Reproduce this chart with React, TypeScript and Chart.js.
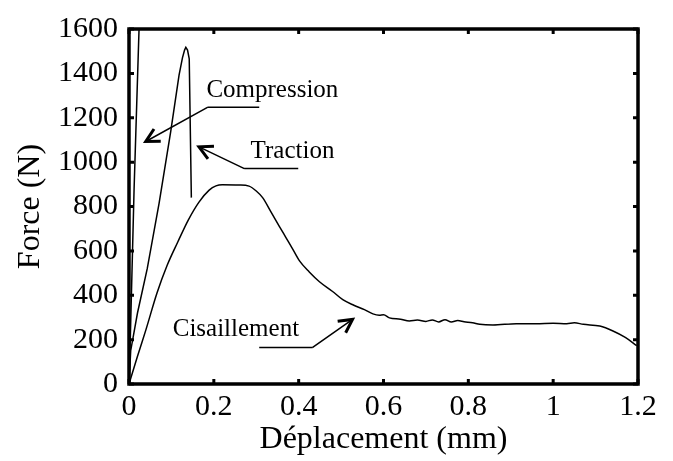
import React, { useEffect, useRef } from "react";
import { Chart, registerables } from "chart.js";

Chart.register(...registerables);

// ---- Data (displacement in mm, force in N) ----
const compressionDisp = [0, 0.003, 0.012, 0.024];
const compressionForce = [0, 200, 880, 1620];

const tractionDisp = [0, 0.004, 0.02, 0.043, 0.071, 0.0985, 0.118, 0.126, 0.131, 0.134, 0.138, 0.142, 0.147];
const tractionForce = [0, 150, 320, 520, 815, 1140, 1392, 1470, 1505, 1517, 1505, 1466, 840];

const shearDisp = [
  0, 0.02, 0.04, 0.066, 0.09, 0.115, 0.14, 0.165, 0.189, 0.205, 0.22, 0.26, 0.283, 0.3, 0.315,
  0.335, 0.354, 0.37, 0.386, 0.402, 0.425, 0.449, 0.48, 0.504, 0.53, 0.555, 0.575, 0.59, 0.6,
  0.614, 0.64, 0.661, 0.68, 0.7, 0.715, 0.73, 0.745, 0.76, 0.775, 0.79, 0.81, 0.827, 0.858,
  0.913, 0.96, 1.0, 1.032, 1.05, 1.071, 1.11, 1.141, 1.17, 1.197,
];
const shearForce = [
  0, 125, 245, 410, 535, 640, 740, 820, 874, 893, 898, 897, 892, 870, 840,
  775, 712, 660, 608, 555, 505, 461, 417, 380, 355, 335, 316, 310, 312,
  298, 292, 284, 288, 282, 289, 280, 290, 279, 286, 281, 276, 269, 266,
  272, 272, 274, 272, 276, 269, 261, 239, 210, 173,
];

const xTickValues = [0, 0.2, 0.4, 0.6, 0.8, 1, 1.2];
const yTickValues = [0, 200, 400, 600, 800, 1000, 1200, 1400, 1600];

// annotations: label, text centre, underline (x1, x2, y), arrow tip (data coords)
const annotationLabels = ["Compression", "Traction", "Cisaillement"];
const annotationTextX = [0.338, 0.3855, 0.252];
const annotationTextY = [1325, 1046, 244];
const underlineX1 = [0.185, 0.272, 0.307];
const underlineX2 = [0.307, 0.399, 0.433];
const underlineY = [1247, 971, 165];
const shaftStartX = [0.185, 0.272, 0.433];
const arrowTipX = [0.0395, 0.165, 0.527];
const arrowTipY = [1093, 1069, 291];

const SERIF = "'Liberation Serif', 'Times New Roman', serif";

const toPoints = (xs: number[], ys: number[]) => xs.map((x, i) => ({ x, y: ys[i] }));

const framePlugin = {
  id: "frameAndNotes",
  afterDraw(chart: any) {
    const { ctx, chartArea } = chart;
    const xs = chart.scales.x;
    const ys = chart.scales.y;
    const { left, right, top, bottom } = chartArea;
    ctx.save();
    ctx.strokeStyle = "#000";
    ctx.lineWidth = 3.5;
    ctx.strokeRect(left, top, right - left, bottom - top);
    ctx.lineWidth = 3;
    const tl = 5;
    ctx.beginPath();
    xTickValues.forEach((v) => {
      const px = xs.getPixelForValue(v);
      ctx.moveTo(px, bottom);
      ctx.lineTo(px, bottom - tl);
      ctx.moveTo(px, top);
      ctx.lineTo(px, top + tl);
    });
    yTickValues.forEach((v) => {
      const py = ys.getPixelForValue(v);
      ctx.moveTo(left, py);
      ctx.lineTo(left + tl, py);
      ctx.moveTo(right, py);
      ctx.lineTo(right - tl, py);
    });
    ctx.stroke();

    // annotations
    ctx.fillStyle = "#000";
    ctx.font = `25px ${SERIF}`;
    ctx.textAlign = "center";
    ctx.textBaseline = "middle";
    annotationLabels.forEach((label, i) => {
      const tx = xs.getPixelForValue(annotationTextX[i]);
      const ty = ys.getPixelForValue(annotationTextY[i]);
      ctx.fillText(label, tx, ty);
      const ux1 = xs.getPixelForValue(underlineX1[i]);
      const ux2 = xs.getPixelForValue(underlineX2[i]);
      const uy = ys.getPixelForValue(underlineY[i]);
      const sx = xs.getPixelForValue(shaftStartX[i]);
      const ax = xs.getPixelForValue(arrowTipX[i]);
      const ay = ys.getPixelForValue(arrowTipY[i]);
      ctx.lineWidth = 1.5;
      ctx.beginPath();
      ctx.moveTo(ux1, uy);
      ctx.lineTo(ux2, uy);
      ctx.moveTo(sx, uy);
      ctx.lineTo(ax, ay);
      ctx.stroke();
      const ang = Math.atan2(uy - ay, sx - ax);
      const len = 15;
      const spread = Math.PI / 6.5;
      ctx.lineWidth = 3;
      ctx.beginPath();
      ctx.moveTo(ax + len * Math.cos(ang - spread), ay + len * Math.sin(ang - spread));
      ctx.lineTo(ax, ay);
      ctx.lineTo(ax + len * Math.cos(ang + spread), ay + len * Math.sin(ang + spread));
      ctx.stroke();
    });
    ctx.restore();
  },
};

export default function App() {
  const canvasRef = useRef<HTMLCanvasElement | null>(null);

  useEffect(() => {
    if (!canvasRef.current) return;
    const tickFont = { family: SERIF, size: 30 };
    const titleFont = { family: SERIF, size: 32 };
    const lineStyle = {
      borderColor: "#000",
      backgroundColor: "#000",
      borderWidth: 1.5,
      pointRadius: 0,
      showLine: true,
      fill: false,
      tension: 0,
    };
    const chart = new Chart(canvasRef.current, {
      type: "scatter",
      data: {
        datasets: [
          { label: "Compression", data: toPoints(compressionDisp, compressionForce), ...lineStyle },
          { label: "Traction", data: toPoints(tractionDisp, tractionForce), ...lineStyle },
          {
            label: "Cisaillement",
            data: toPoints(shearDisp, shearForce),
            ...lineStyle,
            cubicInterpolationMode: "monotone",
          },
        ],
      },
      options: {
        animation: false,
        responsive: false,
        maintainAspectRatio: false,
        layout: { padding: { top: 23, right: 35, bottom: 0, left: 0 } },
        plugins: { legend: { display: false }, tooltip: { enabled: false } },
        scales: {
          x: {
            type: "linear",
            min: 0,
            max: 1.2,
            grid: { display: false, drawTicks: false },
            border: { display: false },
            ticks: {
              stepSize: 0.2,
              font: tickFont,
              color: "#000",
              padding: 5,
              maxRotation: 0,
              autoSkip: false,
              callback: (v: any) => String(Math.round(Number(v) * 10) / 10),
            },
            title: {
              display: true,
              text: "Déplacement (mm)",
              font: titleFont,
              color: "#000",
              padding: { top: 0, bottom: 2 },
            },
            afterFit: (s: any) => {
              s.height = 77;
            },
          },
          y: {
            type: "linear",
            min: 0,
            max: 1600,
            grid: { display: false, drawTicks: false },
            border: { display: false },
            ticks: {
              stepSize: 200,
              font: tickFont,
              color: "#000",
              padding: 11,
              autoSkip: false,
              callback: (v: any) => String(Math.round(Number(v))),
            },
            title: {
              display: true,
              text: "Force (N)",
              font: titleFont,
              color: "#000",
              padding: { top: 11, bottom: 0 },
            },
            afterFit: (s: any) => {
              s.width = 129;
            },
          },
        },
      } as any,
      plugins: [framePlugin],
    });
    return () => chart.destroy();
  }, []);

  return (
    <div style={{ position: "absolute", left: 0, top: 0, width: 673, height: 461, background: "#fff" }}>
      <canvas ref={canvasRef} width={673} height={461} style={{ display: "block" }} />
    </div>
  );
}
